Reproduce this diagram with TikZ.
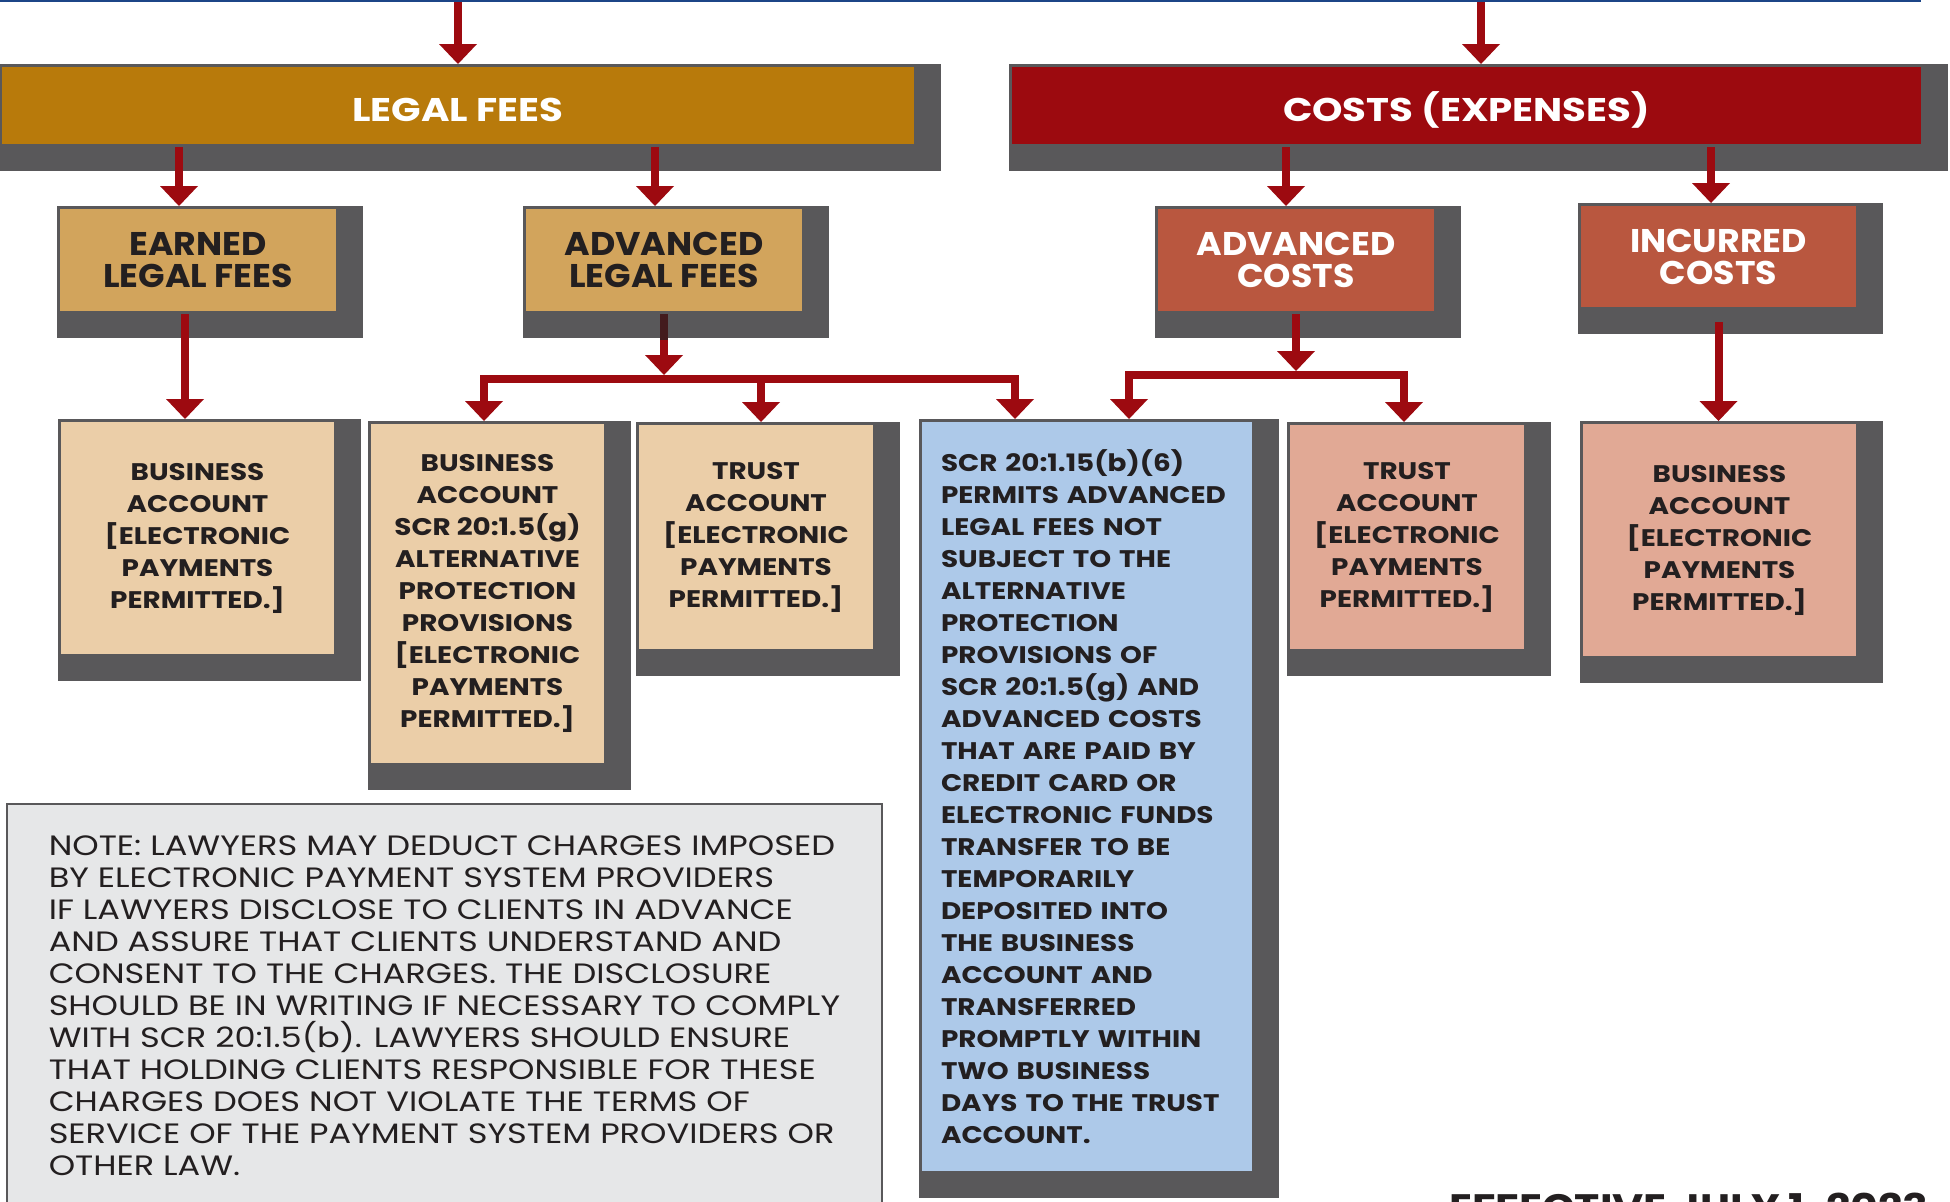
\documentclass[tikz,border=0pt]{standalone}
\usepackage{fontspec}
\setmainfont{Poppins}
\newfontfamily\barfont[FakeStretch=1.18]{Poppins}
\newfontfamily\tierfont[FakeStretch=1.06]{Poppins}
\newfontfamily\acctfont[FakeStretch=1.16]{Poppins}
\newfontfamily\notefont[FakeStretch=1.2]{Poppins}
\usetikzlibrary{arrows.meta,backgrounds}

\definecolor{legalgold}{HTML}{B87A0B}
\definecolor{costred}{HTML}{9C0A0F}
\definecolor{feegold}{HTML}{D2A45C}
\definecolor{costrust}{HTML}{B9573F}
\definecolor{feebeige}{HTML}{EBCEA8}
\definecolor{costsalmon}{HTML}{E1A995}
\definecolor{ruleblue}{HTML}{ADC9E9}
\definecolor{shadowgray}{HTML}{59585A}
\definecolor{notegray}{HTML}{E6E7E8}
\definecolor{arrowred}{HTML}{9D0A10}
\definecolor{shaftdark}{HTML}{431B1D}
\definecolor{ink}{HTML}{231F20}
\definecolor{topblue}{HTML}{1C4587}

\tikzset{
  >={Triangle[width=19pt 0 0,length=10pt 0 0,line width=0pt 0 0]},
  flow/.style={->, line width=4pt, draw=arrowred},
  busflow/.style={<->, line width=4pt, draw=arrowred, line join=miter},
  card/.style={draw=shadowgray, line width=1.5pt, inner sep=0pt},
  bartext/.style={text=white, align=center, text height=16pt, text depth=0pt,
    font=\barfont\bfseries\fontsize{16.4}{16}\selectfont},
  tiertext/.style={align=center, font=\tierfont\bfseries\fontsize{16.4}{16}\selectfont},
  acctext/.style={text=ink, align=center, font=\acctfont\bfseries\fontsize{12}{16}\selectfont},
}

\begin{document}
\begin{tikzpicture}[x=0.5pt,y=-0.5pt]
\useasboundingbox (0,0) rectangle (1950,1201);
\clip (0,0) rectangle (1950,1201);

\node[card, fill=legalgold, bartext, minimum width=457.5pt, minimum height=40pt] (legal) at (458,105.5) {LEGAL FEES};
\node[card, fill=costred, bartext, minimum width=456pt, minimum height=40pt] (costs) at (1466.5,105.5) {COSTS (EXPENSES)};

\node[card, fill=feegold, tiertext, text=ink, minimum width=139.5pt, minimum height=52.5pt] (earned) at (198,260) {EARNED\\LEGAL FEES};
\node[card, fill=feegold, tiertext, text=ink, minimum width=139.5pt, minimum height=52.5pt] (advfees) at (664,260) {ADVANCED\\LEGAL FEES};
\node[card, fill=costrust, tiertext, text=white, minimum width=139.5pt, minimum height=52.5pt] (advcosts) at (1296,260) {ADVANCED\\COSTS};
\node[card, fill=costrust, tiertext, text=white, minimum width=139pt, minimum height=52pt] (incurred) at (1718.5,256.5) {INCURRED\\COSTS};

\node[card, fill=feebeige, acctext, minimum width=138pt, minimum height=117.5pt] (bizfees) at (197.5,538)
  {BUSINESS\\ACCOUNT\\{[}ELECTRONIC\\PAYMENTS\\PERMITTED.{]}};
\node[card, fill=feebeige, acctext, minimum width=118pt, minimum height=171pt] (altfees) at (487.5,593.5)
  {BUSINESS\\ACCOUNT\\SCR 20:1.5(g)\\ALTERNATIVE\\PROTECTION\\PROVISIONS\\{[}ELECTRONIC\\PAYMENTS\\PERMITTED.{]}};
\node[card, fill=feebeige, acctext, minimum width=118.5pt, minimum height=113.5pt] (trustfees) at (756,537)
  {TRUST\\ACCOUNT\\{[}ELECTRONIC\\PAYMENTS\\PERMITTED.{]}};
\node[card, fill=ruleblue, acctext, align=left, text width=146pt, minimum width=166.5pt, minimum height=376pt] (rule) at (1087,796.5)
  {SCR 20:1.15(b)(6)\\PERMITS ADVANCED\\LEGAL FEES NOT\\SUBJECT TO THE\\ALTERNATIVE\\PROTECTION\\PROVISIONS OF\\SCR 20:1.5(g) AND\\ADVANCED COSTS\\THAT ARE PAID BY\\CREDIT CARD OR\\ELECTRONIC FUNDS\\TRANSFER TO BE\\TEMPORARILY\\DEPOSITED INTO\\THE BUSINESS\\ACCOUNT AND\\TRANSFERRED\\PROMPTLY WITHIN\\TWO BUSINESS\\DAYS TO THE TRUST\\ACCOUNT.};
\node[card, fill=costsalmon, acctext, minimum width=118.5pt, minimum height=113.5pt] (trustcosts) at (1407,537)
  {TRUST\\ACCOUNT\\{[}ELECTRONIC\\PAYMENTS\\PERMITTED.{]}};
\node[card, fill=costsalmon, acctext, minimum width=138pt, minimum height=117.5pt] (bizcosts) at (1719.5,540)
  {BUSINESS\\ACCOUNT\\{[}ELECTRONIC\\PAYMENTS\\PERMITTED.{]}};

\node[draw=shadowgray, line width=0.75pt, fill=notegray, text=ink, anchor=north west, align=left,
  inner xsep=21pt, inner ysep=16pt, font=\notefont\fontsize{14}{16}\selectfont] (note) at (6,803)
  {NOTE: LAWYERS MAY DEDUCT CHARGES IMPOSED\\BY ELECTRONIC PAYMENT SYSTEM PROVIDERS\\IF LAWYERS DISCLOSE TO CLIENTS IN ADVANCE\\AND ASSURE THAT CLIENTS UNDERSTAND AND\\CONSENT TO THE CHARGES. THE DISCLOSURE\\SHOULD BE IN WRITING IF NECESSARY TO COMPLY\\WITH SCR 20:1.5(b). LAWYERS SHOULD ENSURE\\THAT HOLDING CLIENTS RESPONSIBLE FOR THESE\\CHARGES DOES NOT VIOLATE THE TERMS OF\\SERVICE OF THE PAYMENT SYSTEM PROVIDERS OR\\OTHER LAW.};
\node[anchor=north west, inner sep=0pt, text=ink, font=\acctfont\bfseries\fontsize{18.4}{18}\selectfont] (effective) at (1449,1193) {EFFECTIVE JULY 1, 2023};

\begin{scope}[on background layer]
  \foreach \n in {legal,costs,earned,advfees,advcosts,incurred,bizfees,altfees,trustfees,rule,trustcosts,bizcosts}
    \fill[shadowgray] (\n.north west) rectangle ([shift={(12pt,-12pt)}]\n.south east);
\end{scope}

\coordinate (feesin) at (458,0);
\coordinate (costsin) at (1481,0);
\coordinate (earnedin) at ([xshift=-9.5pt]earned.north);
\coordinate (advfeesin) at ([xshift=-4.5pt]advfees.north);
\coordinate (advcostsin) at ([xshift=-5pt]advcosts.north);
\coordinate (incurredin) at ([xshift=-3.75pt]incurred.north);
\coordinate (bizfeesin) at ([xshift=-6.25pt]bizfees.north);
\coordinate (feebus) at (664,379);
\coordinate (feebusL) at (484,379);
\coordinate (feebusM) at (761,379);
\coordinate (feebusR) at (1015,379);
\coordinate (costbus) at (1296,375);
\coordinate (costbusL) at (1129,375);
\coordinate (costbusR) at (1404,375);

\draw[flow] (feesin) -- (legal.north);
\draw[flow] (costsin) -- (costsin |- costs.north);
\draw[flow] (earnedin |- legal.south) -- (earnedin);
\draw[flow] (advfeesin |- legal.south) -- (advfeesin);
\draw[flow] (advcostsin |- costs.south) -- (advcostsin);
\draw[flow] (incurredin |- costs.south) -- (incurredin);

\draw[flow] (bizfeesin |- earned.south) -- (bizfeesin);
\draw[flow] (advfees.south) -- ([yshift=2pt]feebus);
\draw[line width=4pt, shaftdark] (advfees.south) -- ++(0,25.5);
\draw[busflow] (altfees.north -| feebusL) -- (feebusL) -- (feebusR) -- (rule.north -| feebusR);
\draw[flow] (feebusM) -- (feebusM |- trustfees.north);
\draw[flow] (advcosts.south) -- ([yshift=2pt]costbus);
\draw[busflow] (rule.north -| costbusL) -- (costbusL) -- (costbusR) -- (trustcosts.north -| costbusR);
\draw[flow] ([yshift=-6pt]incurred.south) -- (incurred.south |- bizcosts.north);

\draw[topblue, line width=1pt] (0,1) -- (1921,1);
\end{tikzpicture}
\end{document}
